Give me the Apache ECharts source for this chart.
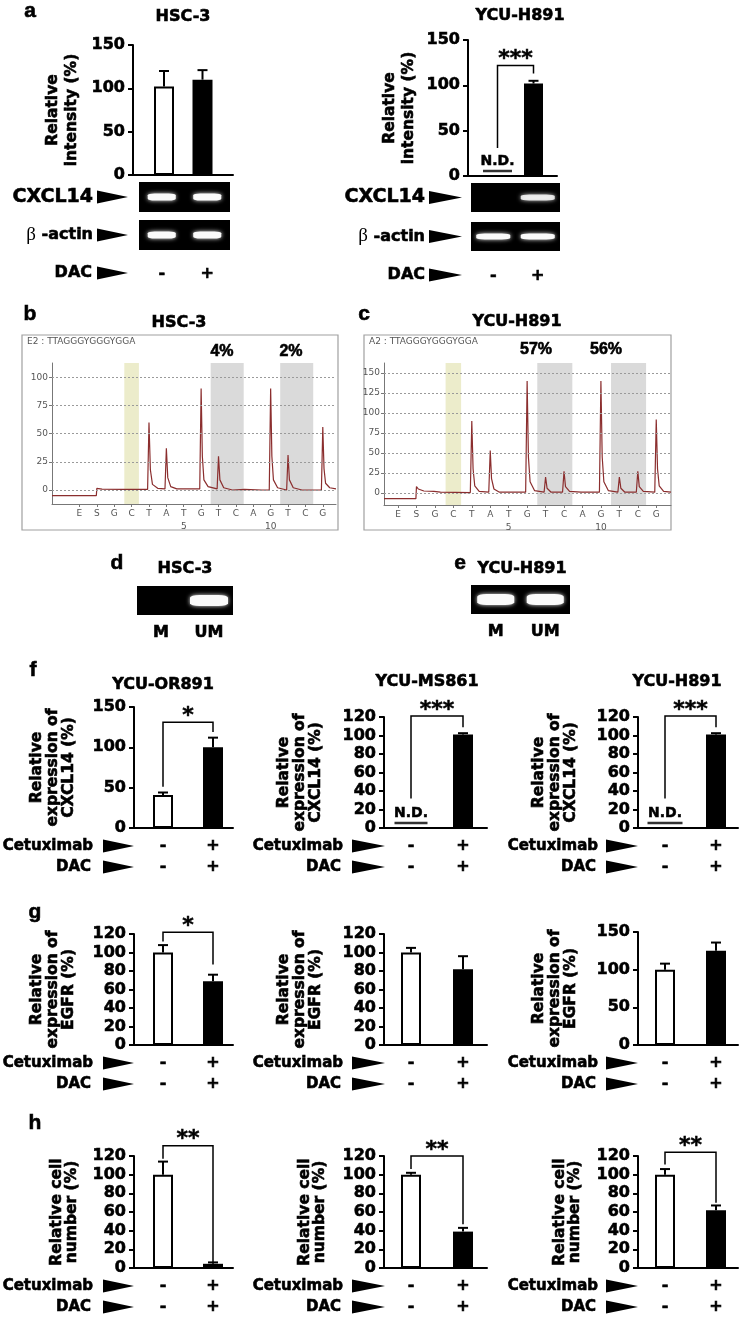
<!DOCTYPE html>
<html><head><meta charset="utf-8">
<script src="https://cdn.jsdelivr.net/npm/echarts@6/dist/echarts.min.js"></script>
<style>html,body{margin:0;padding:0;background:#fff}#c{width:744px;height:1319px}</style>
</head><body><div id="c"></div>
<script>
// ================= DATA =================
const treatRow = ['-', '+'];
const cetuximabRow = ['-', '+'];
const dacRow = ['-', '+'];
const gelLanesMU = ['M', 'UM'];

// panel a
const aHSC3Mean = [102, 110];
const aHSC3Err = [18, 11];
const aH891Mean = ['N.D.', 102];
const aH891Err = [0, 3];
const aH891Sig = [31, 122, 113];
const gelA_HSC3_CXCL14 = [1, 1];
const gelA_HSC3_actin = [1, 1];
const gelA_H891_CXCL14 = [0, 0.85];
const gelA_H891_actin = [1, 1];

// panels b, c (pyrosequencing)
const dispensation = ['E','S','G','C','T','A','T','G','T','C','A','G','T','C','G'];
const positionNumber = ['','','','','','','5','','','','','10','','',''];
const bTicks = [0, 25, 50, 75, 100];
const cTicks = [0, 25, 50, 75, 100, 125, 150];
const bPercents = ['4%', '2%'];
const cPercents = ['57%', '56%'];
const traceHSC3 = [[-1.58,-5],[0.97,-5],[1.0,1.5],[1.3,0.8],[2.5,0.5],[3.92,0.5],[4.0,60],[4.08,18],[4.2,5],[4.5,1.5],[4.92,1],[5.0,37],[5.08,11],[5.25,3],[5.6,1],[6.92,1],[7.0,90],[7.07,30],[7.16,9],[7.4,3],[7.92,1],[8.0,30],[8.08,9],[8.3,2],[8.8,0],[9.5,0.5],[10.5,0],[10.92,0],[11.0,90],[11.07,30],[11.16,9],[11.4,2],[11.92,0],[12.0,31],[12.08,9],[12.3,2],[12.8,0],[13.92,0],[14.0,56],[14.07,19],[14.16,6],[14.4,2],[14.76,1]];
const traceH891 = [[-0.76,-7],[0.97,-7],[1.0,8],[1.1,5],[1.4,2.5],[1.95,2],[2.02,3],[2.3,1],[3.92,0.5],[4.0,90],[4.07,30],[4.16,9],[4.4,2],[4.92,1],[5.0,53],[5.07,18],[5.2,5],[5.5,1],[6.92,1],[7.0,140],[7.07,45],[7.16,14],[7.4,3],[7.92,1],[8.0,20],[8.08,6],[8.3,1],[8.92,1],[9.0,27],[9.08,8],[9.3,2],[9.92,1],[10.0,3],[10.2,1],[10.92,1],[11.0,140],[11.07,45],[11.16,14],[11.4,3],[11.92,1],[12.0,20],[12.08,6],[12.3,1],[12.92,1],[13.0,27],[13.08,8],[13.3,2],[13.92,1],[14.0,92],[14.07,30],[14.16,9],[14.4,2],[14.8,1]];

// panels d, e (MSP gels)
const gelD_HSC3 = [0, 1];
const gelE_H891 = [1, 1];

// panel f: CXCL14 expression
const fOR891Mean = [41, 100];  const fOR891Err = [3, 12];  const fOR891Sig = [51, 131, 119];
const fMS861Mean = ['N.D.', 101]; const fMS861Err = [0, 1.5]; const fMS861Sig = [32, 121, 109];
const fH891Mean = ['N.D.', 101];  const fH891Err = [0, 1.5];  const fH891Sig = [32, 121, 109];
// panel g: EGFR expression
const gOR891Mean = [100, 69];  const gOR891Err = [8, 7];  const gOR891Sig = [112, 122, 87];
const gMS861Mean = [100, 82];  const gMS861Err = [5, 14];
const gH891Mean = [100, 125];  const gH891Err = [8, 11];
// panel h: relative cell number
const hOR891Mean = [100, 4.5]; const hOR891Err = [14, 1.5]; const hOR891Sig = [117, 131, 6.5];
const hMS861Mean = [100, 39];  const hMS861Err = [2, 4];    const hMS861Sig = [106, 120, 47];
const hH891Mean = [100, 62];   const hH891Err = [6, 5];     const hH891Sig = [111, 124, 70];

// ================= BUILD =================
const FONT = 'DejaVu Sans';
const HEAVY = {textBorderColor: '#000', textBorderWidth: 0.6};
const grids = [], xAxes = [], yAxes = [], series = [], graphics = [];
function addGrid(g, xa, ya) {
  const i = grids.length;
  grids.push(g);
  xAxes.push(Object.assign({gridIndex: i}, xa));
  yAxes.push(Object.assign({gridIndex: i}, ya));
  return i;
}
function txt(text, x, y, size, opts) {
  opts = opts || {};
  const al = opts.align || 'center';
  const heavy = opts.heavy !== false;
  graphics.push({type: 'text', x: x, y: y, z: 100, style: Object.assign({
    text: text, font: (opts.weight || 'bold') + ' ' + size + 'px "' + (opts.family || FONT) + '"',
    fill: opts.color || '#000', align: al, verticalAlign: 'middle', textAlign: al, textVerticalAlign: 'middle'
  }, heavy ? {stroke: opts.color || '#000', lineWidth: 0.6} : {}, opts.style || {})});
}
function arrow(x0, x1, y) {
  graphics.push({type: 'polygon', z: 100, shape: {points: [[x0, y - 6.5], [x1, y], [x0, y + 6.5]]}, style: {fill: '#000'}});
}
function rowLabel(text, right, y, ax0, ax1, size) {
  txt(text, right, y, size || 15, {align: 'right'});
  arrow(ax0, ax1, y);
}
function actinLabel(right, y, ax0, ax1) {
  graphics.push({type: 'text', x: right, y: y, z: 100, style: {
    text: '{g|β} -actin', font: 'bold 16px "' + FONT + '"', fill: '#000', stroke: '#000', lineWidth: 0.6,
    align: 'right', verticalAlign: 'middle', textAlign: 'right', textVerticalAlign: 'middle',
    rich: {g: {fontFamily: 'Liberation Serif', fontWeight: 'normal', fontSize: 19, fill: '#000', stroke: null, lineWidth: 0}}
  }});
  arrow(ax0, ax1, y);
}

function barPanel(o) {
  const u = o.c2 - o.c1;
  const axisStyle = {color: '#000', width: 2};
  const xa = {type: 'value', min: 1 - (o.c1 - o.L) / u, max: 2 + (o.R - o.c2) / u,
    axisLine: {show: true, onZero: false, lineStyle: axisStyle}, axisTick: {show: false}, splitLine: {show: false},
    axisLabel: o.rows ? Object.assign({customValues: [1, 2], formatter: function (v) { const k = Math.round(v) - 1; return o.rows.map(function (r) { return r[k]; }).join('\n'); },
      fontFamily: FONT, fontWeight: 'bold', fontSize: 16, color: '#000', lineHeight: 21, margin: 7.5}, HEAVY) : {show: false}};
  const ya = {type: 'value', min: 0, max: o.ymax, interval: o.interval,
    axisLine: {show: true, onZero: false, lineStyle: axisStyle}, axisTick: {show: true, length: 5, lineStyle: axisStyle}, splitLine: {show: false},
    axisLabel: Object.assign({fontFamily: FONT, fontWeight: 'bold', fontSize: 16, color: '#000', margin: 8}, HEAVY),
    name: o.yName, nameLocation: 'middle', nameRotate: 90, nameGap: o.nameGap,
    nameTextStyle: Object.assign({fontFamily: FONT, fontWeight: 'bold', fontSize: 15.5, color: '#000', lineHeight: o.nameLH, align: 'center'}, HEAVY)};
  const i = addGrid({left: o.L, top: o.T, width: o.R - o.L, height: o.B - o.T}, xa, ya);
  series.push({type: 'bar', xAxisIndex: i, yAxisIndex: i, barWidth: o.bw, silent: true, z: 3,
    data: o.mean.map(function (v, k) {
      if (typeof v !== 'number') return {value: [k + 1, null]};
      return {value: [k + 1, v], itemStyle: k === 0 ? {color: '#fff', borderColor: '#000', borderWidth: 2} : {color: '#000'}};
    })});
  const errData = [];
  o.mean.forEach(function (v, k) { if (typeof v === 'number') errData.push([k + 1, v, o.err[k]]); });
  series.push({type: 'custom', xAxisIndex: i, yAxisIndex: i, silent: true, z: 4, data: errData,
    renderItem: function (p, api) {
      const x = api.value(0), v = api.value(1), e = api.value(2);
      const a = api.coord([x, v]), b = api.coord([x, v + e]);
      return {type: 'group', children: [
        {type: 'line', shape: {x1: a[0], y1: a[1], x2: b[0], y2: b[1]}, style: {stroke: '#000', lineWidth: 2}},
        {type: 'line', shape: {x1: b[0] - 5, y1: b[1], x2: b[0] + 5, y2: b[1]}, style: {stroke: '#000', lineWidth: 2}}]};
    }});
  const ndData = [];
  o.mean.forEach(function (v, k) { if (v === 'N.D.') ndData.push([k + 1, 0]); });
  if (ndData.length) series.push({type: 'custom', xAxisIndex: i, yAxisIndex: i, silent: true, z: 4, data: ndData,
    renderItem: function (p, api) {
      const c = api.coord([api.value(0), 0]);
      return {type: 'group', children: [
        {type: 'line', shape: {x1: c[0] - o.ndW / 2, y1: c[1] - 5, x2: c[0] + o.ndW / 2, y2: c[1] - 5}, style: {stroke: '#333', lineWidth: 2.5}},
        {type: 'text', x: c[0], y: c[1] - 8, style: {text: 'N.D.', font: 'bold 14px "' + FONT + '"', fill: '#000', stroke: '#000', lineWidth: 0.5, align: 'center', verticalAlign: 'bottom'}}]};
    }});
  if (o.sig) series.push({type: 'custom', xAxisIndex: i, yAxisIndex: i, silent: true, z: 5, data: [o.sig],
    renderItem: function (p, api) {
      const p1 = api.coord([1, api.value(0)]), p2 = api.coord([1, api.value(1)]), p3 = api.coord([2, api.value(1)]), p4 = api.coord([2, api.value(2)]);
      return {type: 'group', children: [
        {type: 'polyline', shape: {points: [p1, p2, p3, p4]}, style: {stroke: '#000', lineWidth: 1.5, fill: null}},
        {type: 'text', x: (p2[0] + p3[0]) / 2, y: p2[1] - 6, style: {text: o.sigLabel, font: 'bold 22px "' + FONT + '"', fill: '#000', stroke: '#000', lineWidth: 0.5, align: 'center', verticalAlign: 'middle'}}]};
    }});
  return i;
}

function gelPanel(o) {
  const i = addGrid({left: o.L, top: o.T, width: o.W, height: o.H, show: true, backgroundColor: '#000', borderColor: '#000', borderWidth: 0},
    {type: 'category', data: o.labels || ['', ''], axisLine: {show: false}, axisTick: {show: false},
      axisLabel: o.labels ? Object.assign({margin: o.margin, fontFamily: FONT, fontWeight: 'bold', fontSize: o.labelSize || 15, color: '#000'}, HEAVY) : {show: false}},
    {type: 'value', min: 0, max: 1, show: false});
  series.push({type: 'scatter', xAxisIndex: i, yAxisIndex: i, silent: true, symbol: 'roundRect', symbolSize: o.band,
    data: o.bands.map(function (b, k) { return {value: [k, 0.5], itemStyle: {opacity: b}}; }).filter(function (d) { return d.itemStyle.opacity > 0; }),
    itemStyle: {color: '#fafafa', shadowBlur: 4, shadowColor: 'rgba(255,255,255,0.9)'}});
  return i;
}

function chromPanel(o) {
  graphics.push({type: 'rect', z: -10, shape: {x: o.box[0], y: o.box[1], width: o.box[2], height: o.box[3]}, style: {fill: '#fff', stroke: '#a0a0a0', lineWidth: 1.2}});
  graphics.push({type: 'text', x: o.box[0] + 5, y: o.box[1] + 7, z: 100, style: {text: o.header, font: '9px "' + FONT + '"', fill: '#555', align: 'left', verticalAlign: 'middle', textAlign: 'left', textVerticalAlign: 'middle'}});
  const idx = dispensation.map(function (d, k) { return k; });
  const gray = {color: '#777', width: 1};
  const i = addGrid({left: o.L, top: o.T, width: o.R - o.L, height: o.H},
    {type: 'value', min: o.xmin, max: o.xmax, axisLine: {show: true, onZero: false, lineStyle: gray},
      axisTick: {show: true, customValues: idx, length: 3, lineStyle: gray}, splitLine: {show: false},
      axisLabel: {customValues: idx, formatter: function (v) { const k = Math.round(v); return dispensation[k] + (positionNumber[k] ? '\n' + positionNumber[k] : ''); },
        fontFamily: FONT, fontSize: 9, color: '#555', margin: 3, lineHeight: 13}},
    {type: 'value', min: o.ymin, max: o.ymax, axisLine: {show: true, onZero: false, lineStyle: gray},
      axisTick: {show: true, customValues: o.ticks, length: 3, lineStyle: gray}, splitLine: {show: false},
      axisLabel: {customValues: o.ticks, fontFamily: FONT, fontSize: 9, color: '#555', margin: 4}});
  series.push({type: 'line', xAxisIndex: i, yAxisIndex: i, data: o.trace, showSymbol: false, silent: true, z: 3,
    lineStyle: {color: '#8b2e2e', width: 1.2},
    markArea: {silent: true, data: [
      [{xAxis: 2.58, itemStyle: {color: '#ececcb'}}, {xAxis: 3.42}],
      [{xAxis: 7.55, itemStyle: {color: '#dadada'}}, {xAxis: 9.45}],
      [{xAxis: 11.55, itemStyle: {color: '#dadada'}}, {xAxis: 13.45}]]},
    markLine: {silent: true, symbol: 'none', label: {show: false}, lineStyle: {color: '#9a9a9a', type: [2, 2], width: 1},
      data: o.ticks.map(function (t) { return {yAxis: t}; })}
  });
  return i;
}

// ---------- panel a ----------
const aYName = 'Relative\nintensity (%)';
txt('a', 30, 11, 21, {family: 'Liberation Sans'});
txt('HSC-3', 183, 17, 16);
txt('YCU-H891', 520, 16, 16);
barPanel({L: 133, R: 233, T: 45, B: 175, c1: 164, c2: 202.5, ymax: 150, interval: 50, mean: aHSC3Mean, err: aHSC3Err, bw: 20, yName: aYName, nameGap: 51.5, nameLH: 19});
barPanel({L: 468, R: 557, T: 40, B: 176, c1: 497.5, c2: 533.5, ymax: 150, interval: 50, mean: aH891Mean, err: aH891Err, bw: 19, ndW: 29, sig: aH891Sig, sigLabel: '***', yName: aYName, nameGap: 49.5, nameLH: 19});
gelPanel({L: 139, W: 91, T: 182, H: 30, bands: gelA_HSC3_CXCL14, band: [28, 7]});
gelPanel({L: 139, W: 91, T: 220, H: 30, bands: gelA_HSC3_actin, band: [28, 7], labels: treatRow, margin: 15.5, labelSize: 16});
gelPanel({L: 471, W: 89, T: 183, H: 29, bands: gelA_H891_CXCL14, band: [34, 6]});
gelPanel({L: 471, W: 89, T: 222, H: 29, bands: gelA_H891_actin, band: [34, 6], labels: treatRow, margin: 16.5, labelSize: 16});
rowLabel('CXCL14', 93, 197, 97, 128, 19);
actinLabel(93, 235, 97, 128);
rowLabel('DAC', 92, 273, 97, 128, 16);
rowLabel('CXCL14', 425, 197.5, 429, 462, 19);
actinLabel(425, 236.5, 429, 462);
rowLabel('DAC', 425, 275, 429, 462, 16);

// ---------- panels b, c ----------
txt('b', 30, 314, 21, {family: 'Liberation Sans'});
txt('HSC-3', 179, 323, 16);
txt('c', 364, 314, 21, {family: 'Liberation Sans'});
txt('YCU-H891', 517, 322, 16);
chromPanel({box: [22, 335, 316, 195], header: 'E2 : TTAGGGYGGGYGGA', L: 52, R: 336, T: 363, H: 141, xmin: -1.58, xmax: 14.76, ymin: -12.4, ymax: 112.7, ticks: bTicks, trace: traceHSC3});
chromPanel({box: [364, 335, 307, 195], header: 'A2 : TTAGGGYGGGYGGA', L: 384, R: 671, T: 363, H: 142, xmin: -0.76, xmax: 14.8, ymin: -15, ymax: 162.5, ticks: cTicks, trace: traceH891});
txt(bPercents[0], 222, 352, 16, {family: 'Liberation Sans'});
txt(bPercents[1], 291, 352, 16, {family: 'Liberation Sans'});
txt(cPercents[0], 536, 350, 16, {family: 'Liberation Sans'});
txt(cPercents[1], 606, 350, 16, {family: 'Liberation Sans'});

// ---------- panels d, e ----------
txt('d', 117, 563, 21, {family: 'Liberation Sans'});
txt('HSC-3', 185, 569, 16);
txt('e', 460, 563, 21, {family: 'Liberation Sans'});
txt('YCU-H891', 522, 569, 16);
gelPanel({L: 137, W: 96, T: 586, H: 29, bands: gelD_HSC3, band: [38, 11], labels: gelLanesMU, margin: 10, labelSize: 16});
gelPanel({L: 471, W: 99, T: 585, H: 29, bands: gelE_H891, band: [37, 11], labels: gelLanesMU, margin: 10, labelSize: 16});

// ---------- panels f, g, h ----------
const colL = [134, 384, 638], colR = [233, 487, 738];
const colC1 = [163, 411, 665], colC2 = [213, 463, 716];
const rowRight = [93, 343, 598], arrowX = [[103, 134], [352, 385], [606, 638]];
const fYName = 'Relative\nexpression of\nCXCL14 (%)';
const gYName = 'Relative\nexpression of\nEGFR (%)';
const hYName = 'Relative cell\nnumber (%)';
const gapFG = [57, 60, 59.5], gapH = [55, 57, 56];
function rowBlock(col, B) {
  rowLabel('Cetuximab', rowRight[col], B + 18, arrowX[col][0], arrowX[col][1]);
  rowLabel('DAC', rowRight[col] - 2, B + 39, arrowX[col][0], arrowX[col][1]);
}
const fB = 828, gB = 1045, hB = 1268;
txt('f', 33, 670, 21, {family: 'Liberation Sans'});
txt('YCU-OR891', 163, 685, 16);
txt('YCU-MS861', 427, 682, 16);
txt('YCU-H891', 677, 682, 16);
const fSet = [
  {T: 707, ymax: 150, interval: 50, mean: fOR891Mean, err: fOR891Err, sig: fOR891Sig, sigLabel: '*'},
  {T: 717, ymax: 120, interval: 20, mean: fMS861Mean, err: fMS861Err, sig: fMS861Sig, sigLabel: '***', ndW: 33},
  {T: 717, ymax: 120, interval: 20, mean: fH891Mean, err: fH891Err, sig: fH891Sig, sigLabel: '***', ndW: 35}];
fSet.forEach(function (s, c) {
  barPanel(Object.assign({L: colL[c], R: colR[c], B: fB, c1: colC1[c], c2: colC2[c], bw: 20, rows: [cetuximabRow, dacRow], yName: fYName, nameGap: gapFG[c], nameLH: 16}, s));
  rowBlock(c, fB);
});
txt('g', 35, 912, 21, {family: 'Liberation Sans'});
const gSet = [
  {T: 934, ymax: 120, interval: 20, mean: gOR891Mean, err: gOR891Err, sig: gOR891Sig, sigLabel: '*'},
  {T: 934, ymax: 120, interval: 20, mean: gMS861Mean, err: gMS861Err},
  {T: 932, ymax: 150, interval: 50, mean: gH891Mean, err: gH891Err}];
gSet.forEach(function (s, c) {
  barPanel(Object.assign({L: colL[c], R: colR[c], B: gB, c1: colC1[c], c2: colC2[c], bw: 20, rows: [cetuximabRow, dacRow], yName: gYName, nameGap: gapFG[c], nameLH: 16}, s));
  rowBlock(c, gB);
});
txt('h', 35, 1123, 21, {family: 'Liberation Sans'});
const hSet = [
  {mean: hOR891Mean, err: hOR891Err, sig: hOR891Sig, sigLabel: '**'},
  {mean: hMS861Mean, err: hMS861Err, sig: hMS861Sig, sigLabel: '**'},
  {mean: hH891Mean, err: hH891Err, sig: hH891Sig, sigLabel: '**'}];
hSet.forEach(function (s, c) {
  barPanel(Object.assign({L: colL[c], R: colR[c], T: 1156, B: hB, c1: colC1[c], c2: colC2[c], bw: 20, ymax: 120, interval: 20, rows: [cetuximabRow, dacRow], yName: hYName, nameGap: gapH[c], nameLH: 15}, s));
  rowBlock(c, hB);
});

const chart = echarts.init(document.getElementById('c'), null, {renderer: 'canvas', width: 744, height: 1319});
chart.setOption({animation: false, backgroundColor: '#fff', grid: grids, xAxis: xAxes, yAxis: yAxes, series: series, graphic: {elements: graphics}});
</script>
</body></html>
